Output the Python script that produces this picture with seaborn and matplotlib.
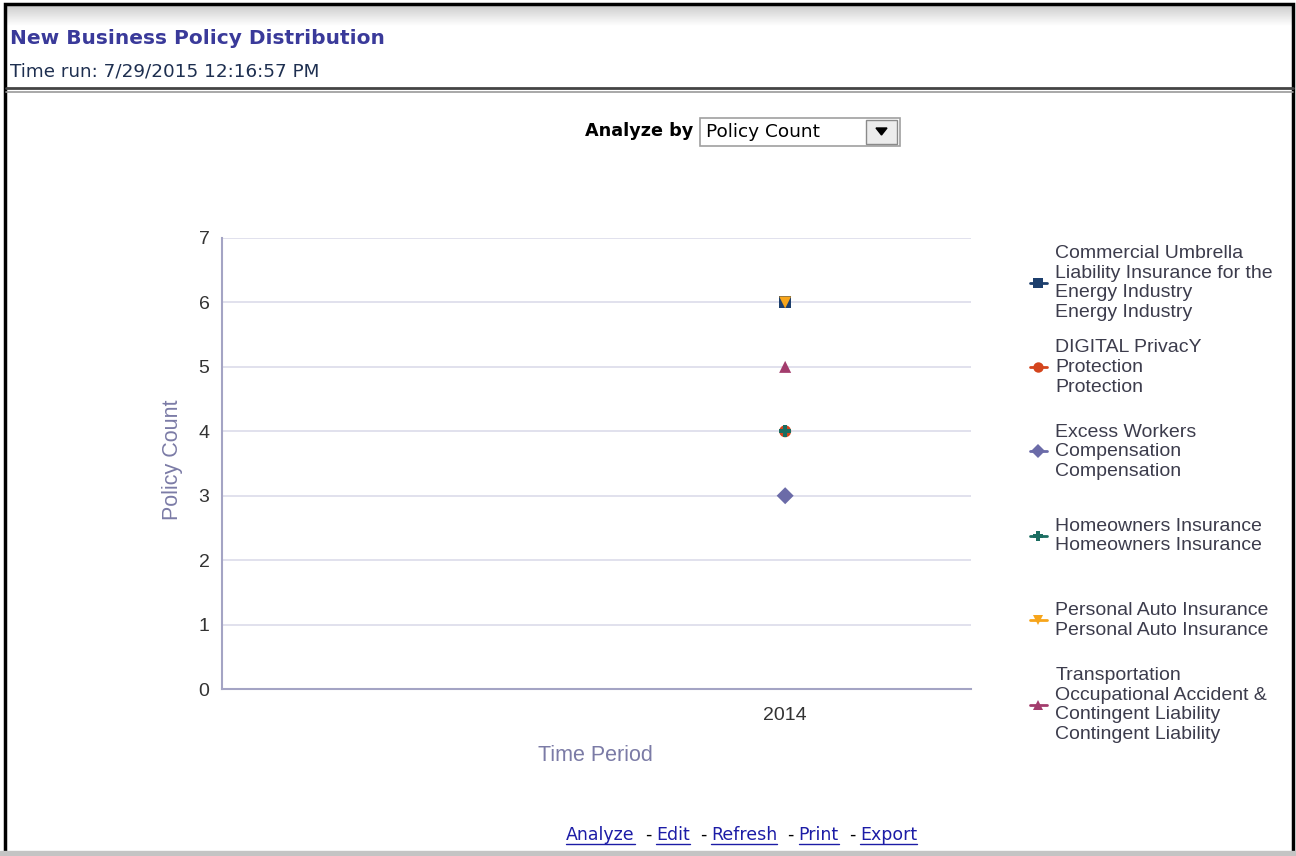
import numpy as np
import pandas as pd
import matplotlib
matplotlib.use("Agg")
import matplotlib.pyplot as plt
import seaborn as sns
from matplotlib.lines import Line2D
from matplotlib.patches import Rectangle, Polygon

# Dados
products = [
    "Commercial Umbrella\nLiability Insurance for the\nEnergy Industry\nEnergy Industry",
    "DIGITAL PrivacY\nProtection\nProtection",
    "Excess Workers\nCompensation\nCompensation",
    "Homeowners Insurance\nHomeowners Insurance",
    "Personal Auto Insurance\nPersonal Auto Insurance",
    "Transportation\nOccupational Accident &\nContingent Liability\nContingent Liability",
]
periods = ["2014", "2014", "2014", "2014", "2014", "2014"]
policy_counts = [6, 4, 3, 4, 6, 5]
y_ticks = [0, 1, 2, 3, 4, 5, 6, 7]

colors = ["#1d3f6d", "#d4451d", "#6b6ba8", "#1b6d61", "#f7a51b", "#a33c6d"]
markers = ["s", "o", "D", "P", "v", "^"]

df = pd.DataFrame({"Product": products, "Time Period": periods,
                   "Policy Count": policy_counts})

W, H = 1296, 856
fig = plt.figure(figsize=(W / 100, H / 100), dpi=100)
sns.set_style("white")
plt.rcParams["font.family"] = ["Liberation Sans", "DejaVu Sans"]


def fx(px):
    return px / W


def fy(py):
    return 1 - py / H


# cabeçalho com gradiente
hax = fig.add_axes([fx(6), fy(26), fx(1287), (26 - 5) / H])
grad = np.linspace(0.80, 1.0, 50).reshape(-1, 1)
hax.imshow(grad, aspect="auto", cmap="gray", vmin=0, vmax=1, extent=[0, 1, 0, 1])
hax.set_axis_off()

# bordas
fig.add_artist(Rectangle((fx(5), fy(853)), fx(1288), (853 - 4) / H, fill=False,
                         edgecolor="black", linewidth=2.5, transform=fig.transFigure))
fig.add_artist(Line2D([fx(6), fx(1293)], [fy(88), fy(88)], color="#444444", lw=2,
                      transform=fig.transFigure))
fig.add_artist(Line2D([fx(6), fx(1293)], [fy(92), fy(92)], color="#9a9a9a", lw=1.2,
                      transform=fig.transFigure))
fig.add_artist(Rectangle((0, 0), 1, 5 / H, color="#c4c4c4", transform=fig.transFigure))

fig.text(fx(10), fy(38), "New Business Policy Distribution", fontsize=14.5,
         fontweight="bold", color="#3a3a9a", va="center", family="DejaVu Sans")
fig.text(fx(10), fy(71), "Time run: 7/29/2015 12:16:57 PM", fontsize=13.2,
         color="#1e2f50", va="center", family="DejaVu Sans")

# seletor "Analyze by"
fig.text(fx(693), fy(131), "Analyze by", fontsize=12.7, fontweight="bold",
         ha="right", va="center", family="DejaVu Sans", color="black")
fig.add_artist(Rectangle((fx(700), fy(146)), fx(200), 28 / H, facecolor="white",
                         edgecolor="#a0a0a0", lw=1.2, transform=fig.transFigure))
fig.add_artist(Rectangle((fx(866), fy(144)), fx(31), 24 / H, facecolor="#ececec",
                         edgecolor="#8a8a8a", lw=1, transform=fig.transFigure))
fig.add_artist(Polygon([[fx(876), fy(128)], [fx(887), fy(128)], [fx(881.5), fy(135)]],
                       closed=True, color="black", transform=fig.transFigure))
fig.text(fx(706), fy(132), "Policy Count", fontsize=13.3, va="center",
         family="DejaVu Sans", color="black")

# gráfico
ax = fig.add_axes([fx(222), fy(689), fx(971 - 222), (689 - 238) / H])
sns.scatterplot(data=df, x="Time Period", y="Policy Count", hue="Product",
                style="Product", palette=colors, markers=markers, s=75,
                linewidth=0, legend=False, ax=ax, zorder=3)
ax.set_xlim(-1.0, 0.33)
ax.set_ylim(0, 7)
ax.set_yticks(y_ticks)
ax.yaxis.grid(True, color="#dcdcea", lw=1.2)
ax.xaxis.grid(False)
for s in ["top", "right"]:
    ax.spines[s].set_visible(False)
for s in ["left", "bottom"]:
    ax.spines[s].set_color("#a4a4c4")
    ax.spines[s].set_linewidth(1.5)
ax.tick_params(axis="both", length=0, labelsize=14, colors="#333333")
ax.tick_params(axis="y", pad=9)
ax.tick_params(axis="x", pad=13)
ax.set_ylabel("Policy Count", fontsize=15.5, color="#7b7ba6")
ax.set_xlabel("Time Period", fontsize=15.5, color="#7b7ba6")
ax.yaxis.set_label_coords(-0.052, 0.508)
ax.xaxis.set_label_coords(0.498, -0.124)

# legenda: uma entrada por faixa, faixas de altura igual
slot_top, slot_h = 283, 84.4
for i, (p, c, m) in enumerate(zip(products, colors, markers)):
    h = Line2D([], [], color=c, marker=m, lw=2, markersize=7.5, markeredgewidth=0)
    leg = fig.legend([h], [p], loc="center left",
                     bbox_to_anchor=(fx(1030), fy(slot_top + i * slot_h)),
                     frameon=False, fontsize=14, handlelength=0.85,
                     handletextpad=0.45, borderpad=0, borderaxespad=0)
    for t in leg.get_texts():
        t.set_color("#3c3c4c")
        t.set_linespacing(1.2)

# links de rodapé
fig.canvas.draw()
renderer = fig.canvas.get_renderer()
links = ["Analyze", "Edit", "Refresh", "Print", "Export"]
x = fx(566)
for i, word in enumerate(links):
    if i > 0:
        sep = fig.text(x + fx(10), fy(835), "-", fontsize=12.5, color="black",
                       va="center", family="DejaVu Sans")
        x = fx(sep.get_window_extent(renderer).x1 + 5)
    t = fig.text(x, fy(835), word, fontsize=12.5, color="#1c1ca6", va="center",
                 family="DejaVu Sans")
    bb = t.get_window_extent(renderer)
    fig.add_artist(Line2D([bb.x0 / W, bb.x1 / W], [bb.y0 / H, bb.y0 / H],
                          color="#1c1ca6", lw=1, transform=fig.transFigure))
    x = bb.x1 / W

fig.savefig("out.png", dpi=100)
